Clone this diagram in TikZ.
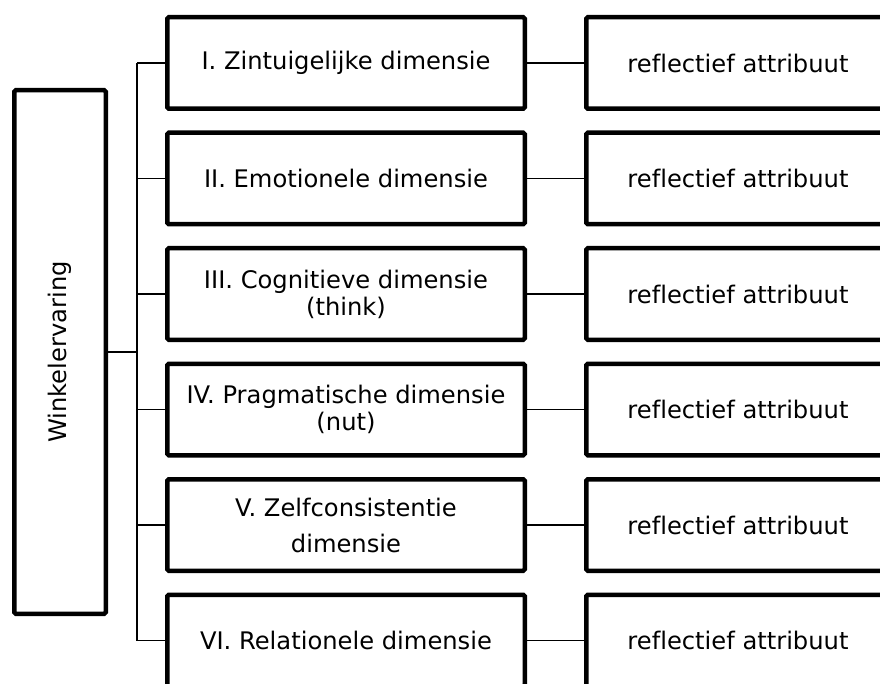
\documentclass[tikz,border=0pt]{standalone}
\usepackage{fontspec}
\setmainfont[Ligatures=NoCommon]{DejaVu Sans}
\begin{document}
\begin{tikzpicture}[x=1pt,y=1pt,
  box/.style={draw=black, line width=4.5pt, rounded corners=1.5pt, fill=white,
    inner sep=0pt, align=center, font=\fontsize{24.2}{27}\selectfont},
  midbox/.style={box, minimum width=357.5pt, minimum height=91.5pt},
  attrbox/.style={box, minimum width=303.5pt, minimum height=91.5pt},
  conn/.style={draw=black, line width=1.8pt}]
\useasboundingbox (0,0) rectangle (880,-684);
\begin{scope}
\clip (0,0) rectangle (880,-684);
\node[box, minimum width=91.5pt, minimum height=523.5pt] (L) at (60,-352) {};
\node[rotate=90, font=\fontsize{24.2}{27}\selectfont] (Lt) at (L.center) {Winkelervaring};

\node[midbox] (M1) at (346,-63) {I. Zintuigelijke dimensie};
\node[midbox] (M2) at (346,-178.5) {II. Emotionele dimensie};
\node[midbox] (M3) at (346,-294) {III. Cognitieve dimensie\\(think)};
\node[midbox] (M4) at (346,-409.5) {IV. Pragmatische dimensie\\(nut)};
\node[midbox] (M5) at (346,-525) {V. Zelfconsistentie\\[9pt]dimensie};
\node[midbox] (M6) at (346,-640.5) {VI. Relationele dimensie};

\foreach \i/\y in {1/-63,2/-178.5,3/-294,4/-409.5,5/-525,6/-640.5}{
  \node[attrbox] (R\i) at (738,\y) {reflectief attribuut};
  \draw[conn] (M\i.east) -- (R\i.west);
}

\coordinate (bus) at (137,-352);
\draw[conn] (L.east) -- (bus);
\draw[conn] (bus |- M1.west) -- (bus |- M6.west);
\foreach \i in {1,...,6}{
  \draw[conn] (bus |- M\i.west) -- (M\i.west);
}
\end{scope}
\end{tikzpicture}
\end{document}
